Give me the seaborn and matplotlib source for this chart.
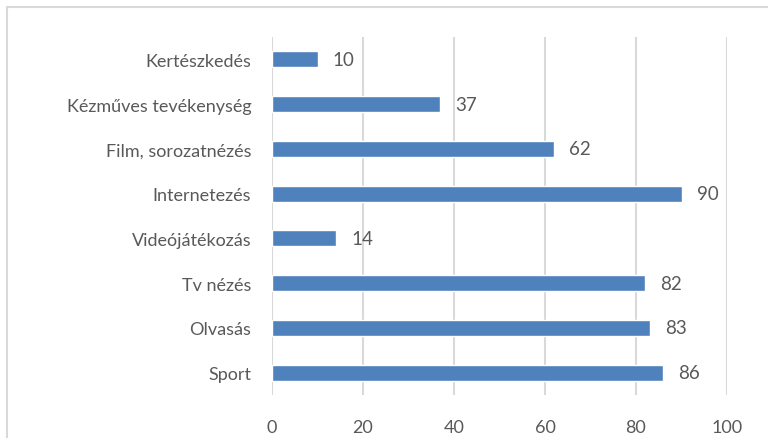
import matplotlib
matplotlib.use("Agg")
import matplotlib.pyplot as plt
import seaborn as sns
import pandas as pd
from matplotlib.lines import Line2D

categories = ["Kertészkedés", "Kézműves tevékenység", "Film, sorozatnézés", "Internetezés",
              "Videójátékozás", "Tv nézés", "Olvasás", "Sport"]
values = [10, 37, 62, 90, 14, 82, 83, 86]
xticks = [0, 20, 40, 60, 80, 100]

df = pd.DataFrame({"cat": categories, "val": values})

sns.set_style("white")
plt.rcParams['font.family'] = ['Lato', 'DejaVu Sans']
text_color = "#595959"

fig = plt.figure(figsize=(7.68, 4.39), dpi=100)
ax = fig.add_axes([272/768, 1-396/439, (727-272)/768, (396-38)/439])
sns.barplot(data=df, y="cat", x="val", orient="h", color="#4F81BD", width=0.36,
            saturation=1, ax=ax, zorder=3)
ax.set_xlim(0, 100)
ax.set_xticks(xticks)
ax.set_xticklabels([str(t) for t in xticks])
ax.grid(axis="x", color="#D9D9D9", linewidth=1.5, zorder=0)
for s in ax.spines.values():
    s.set_visible(False)
ax.set_xlabel("")
ax.set_ylabel("")
ax.tick_params(axis="both", length=0, labelsize=13, colors=text_color)
ax.tick_params(axis="x", pad=17)
ax.tick_params(axis="y", pad=15)
for c in ax.containers:
    ax.bar_label(c, labels=[str(v) for v in values], padding=11, fontsize=13.5, color=text_color)

fig.add_artist(Line2D([7/768, 1], [1-8/439, 1-8/439], transform=fig.transFigure, color="#D9D9D9", lw=1.5))
fig.add_artist(Line2D([7/768, 7/768], [0, 1-8/439], transform=fig.transFigure, color="#D9D9D9", lw=1.5))

fig.savefig("out.png", dpi=100)
